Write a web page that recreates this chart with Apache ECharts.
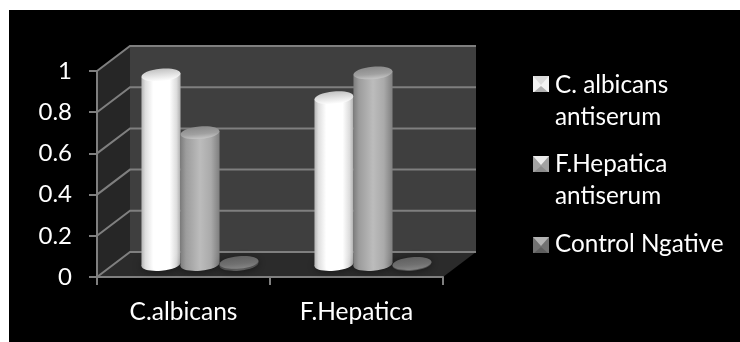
<!DOCTYPE html>
<html>
<head>
<meta charset="utf-8">
<script src="https://cdn.jsdelivr.net/npm/echarts@6/dist/echarts.min.js"></script>
<style>
  html, body { margin: 0; padding: 0; background: #fff; }
  #plate { position: absolute; left: 9px; top: 10px; right: 0; bottom: 0; background: #000; }
  #chart { position: absolute; left: 0; top: 0; width: 740px; height: 342px; }
</style>
</head>
<body>
<div id="plate"></div>
<div id="chart"></div>
<script>
// Antiserum reactivity by antigen
const categories = ['C.albicans', 'F.Hepatica'];
const albicansAntiserum = [0.92, 0.81];
const hepaticaAntiserum = [0.64, 0.93];
const controlNegative = [0.01, 0.005];
const yTicks = [0, 0.2, 0.4, 0.6, 0.8, 1];
const legendLabels = ['C. albicans\nantiserum', 'F.Hepatica\nantiserum', 'Control Ngative'];

const FONT = 'Lato, "Open Sans", sans-serif';
const LINE = '#7f7f7f';
// Oblique projection of the box: how far the back plane sits from the front plane.
const DEPTH_X = 33, DEPTH_Y = -25;

const grad = (x2, y2, stops) => ({
  type: 'linear', x: 0, y: 0, x2, y2,
  colorStops: stops.map(([offset, color]) => ({ offset, color }))
});

const looks = {
  white: {
    side: grad(1, 0, [[0, '#b4b4b4'], [0.1, '#dedede'], [0.3, '#ffffff'], [0.72, '#ffffff'], [0.9, '#dcdcdc'], [1, '#adadad']]),
    cap: grad(0, 1, [[0, '#c2c2c2'], [0.55, '#e4e4e4'], [1, '#ffffff']])
  },
  grey: {
    side: grad(1, 0, [[0, '#7d7d7d'], [0.14, '#9c9c9c'], [0.5, '#bcbcbc'], [0.78, '#aaaaaa'], [1, '#7f7f7f']]),
    cap: grad(0, 1, [[0, '#8a8a8a'], [0.6, '#a0a0a0'], [1, '#c6c6c6']])
  },
  dark: {
    side: grad(1, 0, [[0, '#4a4a4a'], [0.5, '#5e5e5e'], [1, '#4a4a4a']]),
    cap: grad(0, 1, [[0, '#606060'], [0.6, '#707070'], [1, '#858585']])
  }
};

// Draws one cylinder per category, standing at mid depth of the box.
function cylinderSeries(name, values, slot, look) {
  return {
    type: 'custom',
    name,
    z: 4,
    clip: false,
    data: values.map((v, i) => [i, v]),
    encode: { x: 0, y: 1 },
    renderItem(params, api) {
      const band = api.size([1, 0])[0];
      const rx = band * 0.113, ry = 6.2, tilt = -0.09, lift = 1.7;
      const top = api.coord([api.value(0), api.value(1)]);
      const base = api.coord([api.value(0), 0]);
      const cx = top[0] + slot * band * 0.2254 + DEPTH_X / 2;
      const topY = top[1] + DEPTH_Y / 2;
      const baseY = base[1] + DEPTH_Y / 2;
      const disc = (cy, fill, extra) => Object.assign({
        type: 'ellipse',
        shape: { cx, cy, rx, ry },
        rotation: -tilt, originX: cx, originY: cy,
        style: { fill }
      }, extra || {});
      return {
        type: 'group',
        children: [
          disc(baseY, '#000', { style: { fill: 'rgba(0,0,0,0.55)', shadowBlur: 9, shadowColor: '#000' } }),
          disc(baseY, look.side),
          {
            type: 'polygon',
            shape: { points: [[cx - rx, topY + lift], [cx + rx, topY - lift], [cx + rx, baseY - lift], [cx - rx, baseY + lift]] },
            style: { fill: look.side }
          },
          disc(topY, look.cap)
        ]
      };
    }
  };
}

// Back wall, side wall, floor and the gridlines that wrap around them.
const boxSeries = {
  type: 'custom',
  z: 1,
  clip: false,
  data: yTicks.map(t => [0, t]),
  encode: { x: 0, y: 1 },
  renderItem(params, api) {
    const band = api.size([1, 0])[0];
    const tick = api.coord([0, api.value(1)]);
    const left = tick[0] - band / 2;
    const right = left + band * categories.length;
    const y = tick[1];
    const bx = left + DEPTH_X, rx = right + DEPTH_X, by = y + DEPTH_Y;
    const children = [];
    if (params.dataIndex === 0) {
      const yTop = api.coord([0, 1])[1];
      children.push(
        { type: 'rect', shape: { x: bx, y: yTop + DEPTH_Y, width: rx - bx, height: y - yTop }, style: { fill: '#3f3f3f' } },
        { type: 'polygon', shape: { points: [[left, y], [left, yTop], [bx, yTop + DEPTH_Y], [bx, by]] }, style: { fill: '#262626' } },
        { type: 'polygon', shape: { points: [[left, y], [right, y], [rx, by], [bx, by]] }, style: { fill: '#2b2b2b' } }
      );
    }
    const stroke = { stroke: LINE, lineWidth: 2, fill: null };
    children.push({ type: 'polyline', shape: { points: [[left, y], [bx, by], [rx, by]] }, style: stroke });
    return { type: 'group', children };
  }
};

// Legend swatches are small bevelled squares, one entry per series.
const swatchFaces = [
  { base: '#f2f2f2', top: '#dcdcdc', bottom: '#b0b0b0' },
  { base: '#a2a2a2', top: '#ececec', bottom: '#8c8c8c' },
  { base: '#727272', top: '#b4b4b4', bottom: '#5e5e5e' }
];
const swatchTops = [76, 156, 237];
const legendTextTops = [69, 148, 228];
const legendGraphics = [];
legendLabels.forEach((label, i) => {
  const x0 = 533, x1 = 549, y0 = swatchTops[i], y1 = y0 + 16;
  const mx = (x0 + x1) / 2, my = (y0 + y1) / 2;
  const f = swatchFaces[i];
  legendGraphics.push({ type: 'rect', shape: { x: x0, y: y0, width: x1 - x0, height: y1 - y0 }, style: { fill: f.base } });
  [
    [f.bottom, [[x0 + 1, y1], [mx, my + 2], [x1 - 1, y1]]],
    [f.top, [[x0, y0], [mx, my + 1], [x1, y0]]]
  ].forEach(([fill, points]) => {
    legendGraphics.push({ type: 'polygon', shape: { points }, style: { fill } });
  });
  legendGraphics.push({
    type: 'text',
    x: 555,
    y: legendTextTops[i],
    style: { text: label, fill: '#fff', font: '24.3px ' + FONT, lineHeight: 32 }
  });
});

const chart = echarts.init(document.getElementById('chart'));
chart.setOption({
  backgroundColor: 'transparent',
  animation: false,
  grid: { left: 97, top: 71, width: 346, height: 206 },
  xAxis: {
    type: 'category',
    data: categories,
    z: 3,
    axisLine: { lineStyle: { color: LINE, width: 2 } },
    axisTick: { show: true, length: 8, lineStyle: { color: LINE, width: 2 } },
    axisLabel: { color: '#fff', fontFamily: FONT, fontSize: 24.5, margin: 23 }
  },
  yAxis: {
    type: 'value',
    min: 0,
    max: 1,
    interval: 0.2,
    z: 3,
    splitLine: { show: false },
    axisLine: { show: true, lineStyle: { color: LINE, width: 2 } },
    axisTick: { show: true, length: 8, lineStyle: { color: LINE, width: 2 } },
    axisLabel: { color: '#fff', fontFamily: FONT, fontSize: 24, margin: 25, padding: [4, 0, 0, 0] }
  },
  graphic: legendGraphics,
  series: [
    boxSeries,
    cylinderSeries(legendLabels[0], albicansAntiserum, -1, looks.white),
    cylinderSeries(legendLabels[1], hepaticaAntiserum, 0, looks.grey),
    cylinderSeries(legendLabels[2], controlNegative, 1, looks.dark)
  ]
});
</script>
</body>
</html>
